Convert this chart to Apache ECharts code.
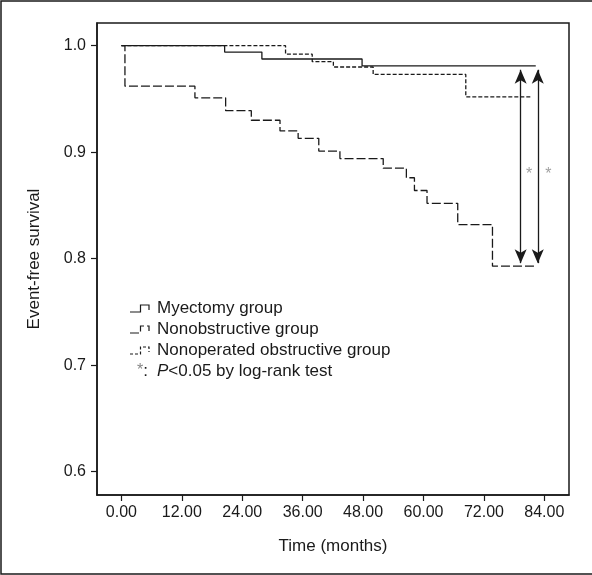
<!DOCTYPE html>
<html>
<head>
<meta charset="utf-8">
<script src="https://cdn.jsdelivr.net/npm/echarts@6/dist/echarts.min.js"></script>
<style>
html,body{margin:0;padding:0;background:#fff;}
#chart{width:592px;height:575px;}
</style>
</head>
<body>
<div id="chart"></div>
<script>
// ---- data ----
const myectomyTime = [0, 20.5, 27.9, 47.8, 82.3];
const myectomySurv = [1.0, 0.994, 0.9875, 0.981, 0.981];
const nonobstructiveTime = [0, 0.7, 14.6, 20.7, 25.8, 31.5, 35.1, 39.2, 43.4, 52.0, 56.6, 58.2, 60.7, 66.8, 73.7, 82.4];
const nonobstructiveSurv = [1.0, 0.962, 0.951, 0.939, 0.930, 0.920, 0.913, 0.901, 0.894, 0.885, 0.876, 0.864, 0.852, 0.832, 0.793, 0.793];
const nonoperatedTime = [0, 32.6, 37.9, 42.1, 50.0, 68.4, 81.5];
const nonoperatedSurv = [1.0, 0.992, 0.985, 0.980, 0.973, 0.952, 0.952];
const xTicks = [0, 12, 24, 36, 48, 60, 72, 84];
const yTicks = [0.6, 0.7, 0.8, 0.9, 1.0];
const arrowTimes = [79.3, 82.7];
const arrowRange = [0.7958, 0.9774];
const asteriskTimes = [81.0, 84.8];
const asteriskLevel = 0.8794;
const seriesNames = ['Myectomy group', 'Nonobstructive group', 'Nonoperated obstructive group'];

const toPts = (t, s) => t.map((v, i) => [v, s[i]]);
const ink = '#1a1a1a';
const txtFont = 'Liberation Sans, Arial, sans-serif';

const chart = echarts.init(document.getElementById('chart'), null, {renderer: 'canvas'});

const legendRows = [
  {y: 308, dash: null, text: seriesNames[0]},
  {y: 329, dash: [9, 3], text: seriesNames[1]},
  {y: 350, dash: [3, 2], text: seriesNames[2]}
];
const graphic = [
  {type: 'rect', shape: {x: 1, y: 1, width: 600, height: 573}, style: {fill: 'none', stroke: ink, lineWidth: 1.5}, silent: true}
];
legendRows.forEach(r => {
  graphic.push({type: 'polyline', shape: {points: [[130, r.y + 4], [140.5, r.y + 4], [140.5, r.y - 3], [149, r.y - 3], [149, r.y + 2]]},
    style: {fill: 'none', stroke: ink, lineWidth: 1.2, lineDash: r.dash}, silent: true});
  graphic.push({type: 'text', x: 157, y: r.y, style: {text: r.text, font: '17px ' + txtFont, fill: ink, verticalAlign: 'middle'}, silent: true});
});
graphic.push({type: 'text', x: 137, y: 371, style: {rich: {a: {fill: '#888', font: '16px ' + txtFont}, b: {fill: ink, font: '17px ' + txtFont}}, text: '{a|*}{b|:}', verticalAlign: 'middle'}, silent: true});
graphic.push({type: 'text', x: 157, y: 371, style: {rich: {i: {fill: ink, font: 'italic 17px ' + txtFont}, n: {fill: ink, font: '17px ' + txtFont}}, text: '{i|P}{n|<0.05 by log-rank test}', verticalAlign: 'middle'}, silent: true});

const option = {
  animation: false,
  backgroundColor: '#fff',
  grid: {left: 97, top: 23, right: 23, bottom: 80, show: true, borderColor: ink, borderWidth: 1.5, backgroundColor: 'transparent'},
  xAxis: {
    type: 'value', min: -4.85, max: 88.9,
    name: 'Time (months)', nameLocation: 'middle', nameGap: 43,
    nameTextStyle: {fontFamily: txtFont, fontSize: 17, color: ink},
    axisLine: {show: true, onZero: false, lineStyle: {color: ink, width: 1.5}},
    axisTick: {show: true, customValues: xTicks, length: 6, inside: false, lineStyle: {color: ink, width: 1.2}},
    axisLabel: {customValues: xTicks, formatter: v => Number(v).toFixed(2), margin: 10, fontFamily: txtFont, fontSize: 16, color: ink},
    splitLine: {show: false}
  },
  yAxis: {
    type: 'value', min: 0.5781, max: 1.0213,
    name: 'Event-free survival', nameLocation: 'middle', nameGap: 54, nameRotate: 90,
    nameTextStyle: {fontFamily: txtFont, fontSize: 17, color: ink},
    axisLine: {show: true, onZero: false, lineStyle: {color: ink, width: 1.5}},
    axisTick: {show: true, customValues: yTicks, length: 6, inside: false, lineStyle: {color: ink, width: 1.2}},
    axisLabel: {customValues: yTicks, formatter: v => Number(v).toFixed(1), margin: 11, fontFamily: txtFont, fontSize: 16, color: ink},
    splitLine: {show: false}
  },
  series: [
    {
      name: seriesNames[2], type: 'line', step: 'end', symbol: 'none', z: 2,
      lineStyle: {color: ink, width: 1.3, type: [4, 2]},
      data: toPts(nonoperatedTime, nonoperatedSurv)
    },
    {
      name: seriesNames[1], type: 'line', step: 'end', symbol: 'none', z: 3,
      lineStyle: {color: ink, width: 1.3, type: [9, 3]},
      data: toPts(nonobstructiveTime, nonobstructiveSurv)
    },
    {
      name: seriesNames[0], type: 'line', step: 'end', symbol: 'none', z: 4,
      lineStyle: {color: ink, width: 1.3, type: 'solid'},
      data: toPts(myectomyTime, myectomySurv),
      markLine: {
        silent: true, symbol: ['arrow', 'arrow'], symbolSize: [9, 14],
        lineStyle: {color: ink, width: 1.3, type: 'solid'},
        label: {show: false},
        data: arrowTimes.map(t => [{coord: [t, arrowRange[0]]}, {coord: [t, arrowRange[1]]}])
      }
    },
    {
      type: 'scatter', symbolSize: 0, z: 5,
      label: {show: true, position: 'inside', formatter: '*', color: '#888', fontFamily: txtFont, fontSize: 16},
      data: asteriskTimes.map(t => [t, asteriskLevel])
    }
  ],
  graphic: graphic
};
chart.setOption(option);
</script>
</body>
</html>
